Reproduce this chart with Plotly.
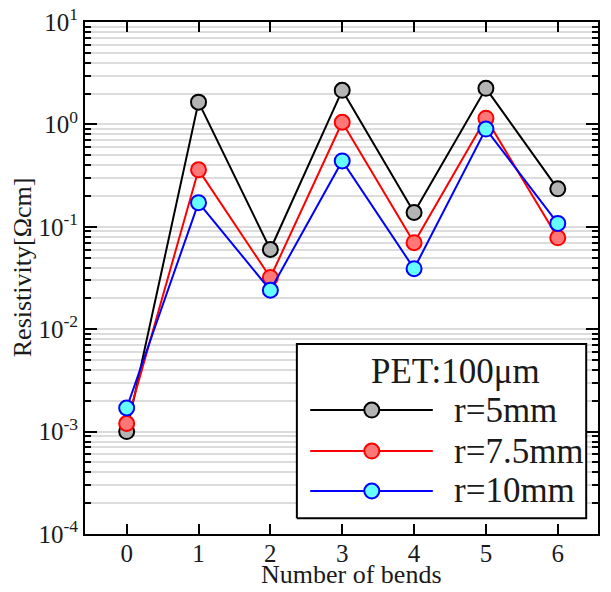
import plotly.graph_objects as go

bends = [0, 1, 2, 3, 4, 5, 6]
r5 = [0.00100, 1.65, 0.060, 2.15, 0.138, 2.25, 0.235]
r75 = [0.00120, 0.36, 0.032, 1.05, 0.070, 1.15, 0.078]
r10 = [0.00170, 0.172, 0.024, 0.44, 0.039, 0.90, 0.108]

series_names = ["r=5mm", "r=7.5mm", "r=10mm"]
legend_title = "PET:100\u03bcm"
x_title = "Number of bends"
y_title = "Resistivity[\u03a9cm]"
ytick_vals = [1e-4, 1e-3, 1e-2, 1e-1, 1, 10]
ytick_text = ["10<sup>-4</sup>", "10<sup>-3</sup>", "10<sup>-2</sup>",
              "10<sup>-1</sup>", "10<sup>0</sup>", "10<sup>1</sup>"]

line_colors = ["#000000", "#ff0000", "#0000ff"]
fill_colors = ["#b4b4b4", "#ff7777", "#66ffff"]
FONT = "Liberation Serif"
TXT = "#1a1a1a"

fig = go.Figure()
for ys, name, lc, fc in zip([r5, r75, r10], series_names, line_colors, fill_colors):
    fig.add_trace(go.Scatter(
        x=bends, y=ys, name=name, mode="lines+markers",
        line=dict(color=lc, width=2),
        marker=dict(size=15, color=fc, line=dict(color=lc, width=2)),
        showlegend=False))

# custom legend drawn on an overlay axis spanning the plot area, range [0,1]
bx0, bx1, by0, by1 = 0.413, 0.977, 0.031, 0.371
fig.add_trace(go.Scatter(
    x=[bx0, bx1, bx1, bx0, bx0], y=[by0, by0, by1, by1, by0],
    mode="lines", fill="toself", fillcolor="white",
    line=dict(color="black", width=2), xaxis="x2", yaxis="y2",
    showlegend=False, hoverinfo="skip"))
legend_rows = [0.242, 0.162, 0.084]
for yrow, name, lc, fc in zip(legend_rows, series_names, line_colors, fill_colors):
    fig.add_trace(go.Scatter(
        x=[0.439, 0.678], y=[yrow, yrow], mode="lines", xaxis="x2", yaxis="y2",
        line=dict(color=lc, width=2), showlegend=False, hoverinfo="skip"))
    fig.add_trace(go.Scatter(
        x=[0.559], y=[yrow], mode="markers", xaxis="x2", yaxis="y2",
        marker=dict(size=15, color=fc, line=dict(color=lc, width=2)),
        showlegend=False, hoverinfo="skip"))
    fig.add_annotation(x=0.715, y=yrow, xref="x2", yref="y2", text=name,
                       showarrow=False, xanchor="left", yanchor="middle",
                       font=dict(family=FONT, size=35, color=TXT))
fig.add_annotation(x=0.722, y=0.318, xref="x2", yref="y2", text=legend_title,
                   showarrow=False, xanchor="center", yanchor="middle",
                   font=dict(family=FONT, size=35, color=TXT))

# axis titles
fig.add_annotation(x=0.52, y=0, xref="paper", yref="paper", text=x_title,
                   showarrow=False, xanchor="center", yanchor="middle",
                   yshift=-40, font=dict(family=FONT, size=26, color=TXT))
fig.add_annotation(x=0, y=0.521, xref="paper", yref="paper", text=y_title,
                   showarrow=False, xanchor="center", yanchor="middle",
                   textangle=-90, xshift=-63,
                   font=dict(family=FONT, size=26, color=TXT))

# page body has an 8px default margin; figure is sized to fit the window
fig.update_layout(
    width=595, height=576,
    margin=dict(l=77, r=5, t=14, b=50),
    paper_bgcolor="white", plot_bgcolor="white",
    font=dict(family=FONT, size=25, color=TXT),
    showlegend=False,
    xaxis=dict(
        range=[-0.58, 6.56], tickvals=bends, ticks="inside", ticklen=10,
        tickwidth=2, tickcolor="black", showline=True, linecolor="black",
        linewidth=2, mirror="allticks", showgrid=False, zeroline=False,
        automargin=False, ticklabelstandoff=-4, tickfont=dict(size=25)),
    yaxis=dict(
        type="log", range=[-4, 1], tickvals=ytick_vals, ticktext=ytick_text,
        ticks="inside", ticklen=12, tickwidth=2, tickcolor="black",
        showline=True, linecolor="black", linewidth=2, mirror="allticks",
        showgrid=True, gridcolor="#dcdcdc", gridwidth=1.5, zeroline=False,
        automargin=False, ticklabeloverflow="allow",
        minor=dict(dtick="D1", ticks="inside", ticklen=6, tickwidth=2,
                   tickcolor="black", showgrid=True, gridcolor="#dcdcdc",
                   gridwidth=1.5),
        tickfont=dict(size=25)),
    xaxis2=dict(overlaying="x", range=[0, 1], visible=False, fixedrange=True),
    yaxis2=dict(overlaying="y", range=[0, 1], visible=False, fixedrange=True),
)

fig.write_html("out.html")
